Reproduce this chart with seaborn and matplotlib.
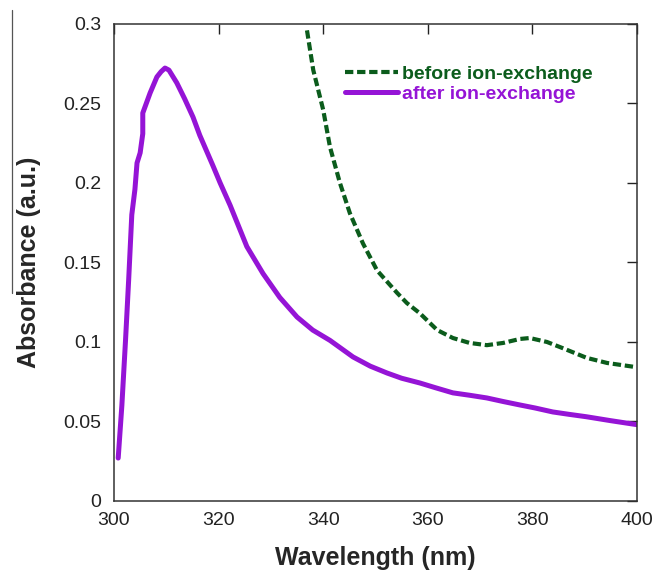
import numpy as np
import pandas as pd
import matplotlib
matplotlib.use("Agg")
import matplotlib.pyplot as plt
import seaborn as sns
from matplotlib.lines import Line2D

# ================= Data =================
after_wl = [300.8, 301.5, 302.2, 302.8, 303.4, 304.0, 304.4, 305.0, 305.5, 305.5, 306.9,
            308.2, 309.0, 309.75, 310.5, 312.0, 313.5, 315.1, 316.4, 318.9, 320.3, 322.2,
            325.4, 328.5, 331.7, 335.0, 338.0, 341.3, 345.7, 349.0, 352.2, 355.0, 358.5,
            361.5, 364.8, 368.0, 371.3, 374.5, 377.6, 380.5, 383.9, 387.0, 390.3, 395.0, 400.0]
after_abs = [0.027, 0.060, 0.101, 0.139, 0.180, 0.196, 0.2126, 0.219, 0.231, 0.244, 0.2566,
             0.2667, 0.270, 0.2723, 0.271, 0.263, 0.253, 0.2415, 0.230, 0.211, 0.200, 0.186,
             0.160, 0.143, 0.128, 0.1157, 0.1075, 0.101, 0.0906, 0.0848, 0.0805, 0.0772, 0.0742,
             0.0712, 0.068, 0.0665, 0.0648, 0.0625, 0.0604, 0.0585, 0.056, 0.0545, 0.053, 0.0505, 0.048]

before_wl = [336.9, 338.1, 340.0, 341.3, 343.2, 345.1, 347.6, 350.3, 354.1, 356.0, 358.5,
             361.8, 364.8, 368.0, 371.3, 374.4, 377.6, 379.5, 382.8, 385.9, 390.4, 394.3, 399.6]
before_abs = [0.296, 0.271, 0.246, 0.2226, 0.200, 0.181, 0.162, 0.145, 0.131, 0.1245, 0.118,
              0.1075, 0.1025, 0.0994, 0.098, 0.0994, 0.1019, 0.1025, 0.100, 0.096, 0.090, 0.0868, 0.0843]

labels = ["before ion-exchange", "after ion-exchange"]
x_ticks = [300, 320, 340, 360, 380, 400]
y_ticks = [0, 0.05, 0.1, 0.15, 0.2, 0.25, 0.3]
y_tick_labels = ["0", "0.05", "0.1", "0.15", "0.2", "0.25", "0.3"]

# ================= Styling =================
sns.set_style("white")
plt.rcParams['font.family'] = ['Liberation Sans', 'DejaVu Sans']

GREEN = '#0B5C1C'
PURPLE = '#9514D6'

df_after = pd.DataFrame({'Wavelength': after_wl, 'Absorbance': after_abs})
df_before = pd.DataFrame({'Wavelength': before_wl, 'Absorbance': before_abs})

fig = plt.figure(figsize=(6.56, 5.74), dpi=100)
ax = fig.add_axes([0.1738, 0.1272, 0.7972, 0.8310])

sns.lineplot(data=df_before, x='Wavelength', y='Absorbance', ax=ax, color=GREEN,
             linewidth=3.0, linestyle=(0, (2.0, 0.9)), sort=False, estimator=None,
             label=labels[0])
sns.lineplot(data=df_after, x='Wavelength', y='Absorbance', ax=ax, color=PURPLE,
             linewidth=3.6, sort=False, estimator=None, label=labels[1])

ax.set_xlim(300, 400)
ax.set_ylim(0, 0.3)
ax.set_xticks(x_ticks)
ax.set_yticks(y_ticks)
ax.set_yticklabels(y_tick_labels)
ax.tick_params(direction='in', length=7, width=1, top=True, right=True,
               labelsize=14, colors='#222222')
ax.tick_params(axis='y', pad=9)
ax.tick_params(axis='x', pad=8)
for s in ax.spines.values():
    s.set_linewidth(1.1)
    s.set_color('#333333')

ax.set_xlabel('Wavelength (nm)', fontsize=18, fontweight='bold', labelpad=12)
ax.set_ylabel('Absorbance (a.u.)', fontsize=18, fontweight='bold', labelpad=16)

leg = ax.legend(loc='upper left', bbox_to_anchor=(0.4417, 0.914), frameon=False,
                handlelength=2.7, handletextpad=0.25, labelspacing=0.13,
                borderpad=0, borderaxespad=0, labelcolor='linecolor',
                prop={'weight': 'bold', 'size': 14})

# thin stray line at the left edge of the reference image
fig.add_artist(Line2D([0.0183, 0.0183], [0.983, 0.49], color='#555555', linewidth=0.9))

fig.savefig('out.png', dpi=100)
